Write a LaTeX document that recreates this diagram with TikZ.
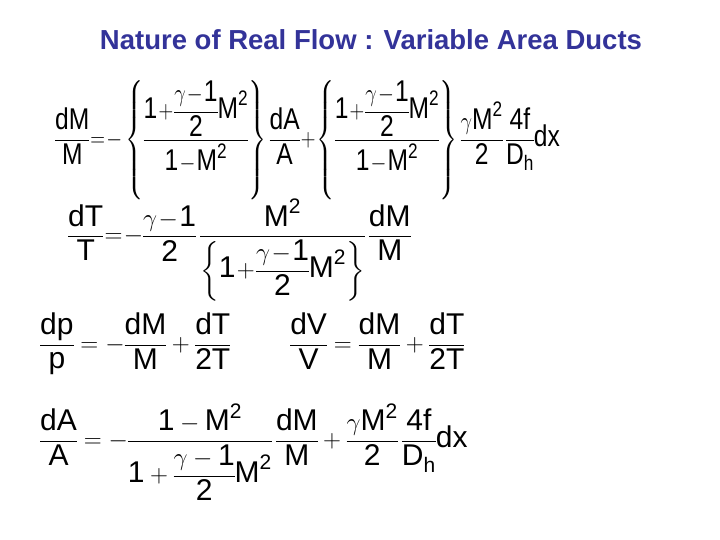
\documentclass[tikz,border=0pt]{standalone}
\usepackage{amsmath}
\usepackage{fontspec}
\setmainfont{Liberation Sans}
\newcommand{\tx}[1]{\text{#1}}
\newcommand{\eqsp}{\medmuskip=1mu plus 1mu\thickmuskip=1mu plus 1mu\nulldelimiterspace=0pt\relax}
\newcommand{\eqspb}{\medmuskip=4mu plus 1mu\thickmuskip=5mu plus 1mu\nulldelimiterspace=0pt\relax}
\definecolor{ttl}{RGB}{51,51,153}
\begin{document}
\begin{tikzpicture}[x=1pt,y=-1pt,
  eq/.style={anchor=west,inner sep=0pt,font=\fontsize{30}{34}\selectfont}]
\useasboundingbox (0,0) rectangle (720,540);
\node[font=\bfseries\fontsize{27.5}{31}\selectfont,text=ttl] (title) at (371,40) {Nature of Real Flow : Variable Area Ducts};
\node[eq,xscale=0.82,transform shape] (e1) at (55,140) {\eqsp$\dfrac{\tx{dM}}{\tx{M}}=-\left\{\dfrac{\tx{1}+\dfrac{\gamma-\tx{1}}{\tx{2}}\tx{M}^{\tx{2}}}{\tx{1}-\tx{M}^{\tx{2}}}\right\}\dfrac{\tx{dA}}{\tx{A}}+\left\{\dfrac{\tx{1}+\dfrac{\gamma-\tx{1}}{\tx{2}}\tx{M}^{\tx{2}}}{\tx{1}-\tx{M}^{\tx{2}}}\right\}\dfrac{\gamma\tx{M}^{\tx{2}}}{\tx{2}}\,\dfrac{\tx{4f}}{\tx{D}_\tx{h}}\tx{dx}$};
\node[eq] (e2) at (68,250) {\eqsp$\dfrac{\tx{dT}}{\tx{T}}=-\dfrac{\gamma-\tx{1}}{\tx{2}}\,\dfrac{\tx{M}^{\tx{2}}}{\left\{\tx{1}+\dfrac{\gamma-\tx{1}}{\tx{2}}\tx{M}^{\tx{2}}\right\}}\,\dfrac{\tx{dM}}{\tx{M}}$};
\node[eq] (e3) at (40,344) {\eqspb$\dfrac{\tx{dp}}{\tx{p}}=-\dfrac{\tx{dM}}{\tx{M}}+\dfrac{\tx{dT}}{\tx{2T}}\qquad\dfrac{\tx{dV}}{\tx{V}}=\dfrac{\tx{dM}}{\tx{M}}+\dfrac{\tx{dT}}{\tx{2T}}$};
\node[eq] (e4) at (40,452) {\eqspb$\dfrac{\tx{dA}}{\tx{A}}=-\dfrac{\tx{1}-\tx{M}^{\tx{2}}}{\tx{1}+\dfrac{\gamma-\tx{1}}{\tx{2}}\tx{M}^{\tx{2}}}\,\dfrac{\tx{dM}}{\tx{M}}+\dfrac{\gamma\tx{M}^{\tx{2}}}{\tx{2}}\,\dfrac{\tx{4f}}{\tx{D}_\tx{h}}\tx{dx}$};
\end{tikzpicture}
\end{document}
